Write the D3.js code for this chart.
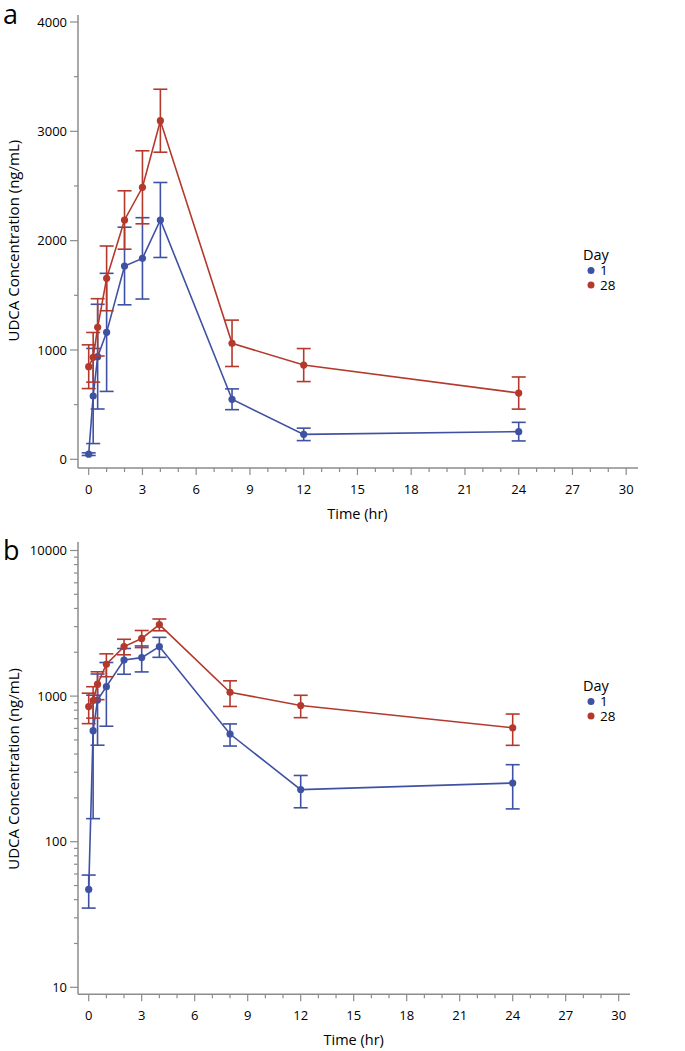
<!DOCTYPE html>
<html>
<head>
<meta charset="utf-8">
<script src="https://cdn.jsdelivr.net/npm/d3@7/dist/d3.min.js"></script>
<style>
  html, body { margin: 0; padding: 0; background: #fff; }
  svg { display: block; font-family: "Open Sans", "Noto Sans", sans-serif; }
</style>
</head>
<body>
<svg id="chart" width="685" height="1051"></svg>
<script>
// ---- Data ----
const times = [0, 0.25, 0.5, 1, 2, 3, 4, 8, 12, 24];
const day1Mean = [47, 579, 939, 1161, 1768, 1838, 2189, 549, 228, 253];
const day1SD   = [12, 435, 479, 540, 355, 372, 343, 95, 57, 85];
const day28Mean = [847, 933, 1207, 1655, 2189, 2488, 3097, 1061, 862, 606];
const day28SD   = [200, 227, 262, 296, 267, 334, 288, 212, 151, 147];
const seriesNames = ["1", "28"];
const xTickValues = [0, 3, 6, 9, 12, 15, 18, 21, 24, 27, 30];
const yLinTicks = [0, 1000, 2000, 3000, 4000];
const yLogTicks = [10, 100, 1000, 10000];
const panelLabels = ["a", "b"];
const xTitle = "Time (hr)";
const yTitle = "UDCA Concentration (ng/mL)";
const legendTitle = "Day";

const colors = ["#3F51A3", "#B4392C"];
const axisColor = "#8c8c8c";

const series = [
  { name: seriesNames[0], mean: day1Mean, sd: day1SD, color: colors[0] },
  { name: seriesNames[1], mean: day28Mean, sd: day28SD, color: colors[1] }
];

const svg = d3.select("#chart");

function drawPanel(cfg) {
  const g = svg.append("g");
  const x = d3.scaleLinear().domain([0, 30]).range([cfg.x0, cfg.x1]);
  const y = cfg.y;

  // panel label
  g.append("text").attr("x", 3).attr("y", cfg.labelY)
    .attr("font-size", 27).attr("fill", "#000").text(cfg.label);

  // axis lines
  g.append("line").attr("x1", cfg.axisX).attr("x2", cfg.axisX)
    .attr("y1", cfg.axisTop).attr("y2", cfg.axisY)
    .attr("stroke", axisColor).attr("stroke-width", 1.5);
  g.append("line").attr("x1", cfg.axisX).attr("x2", cfg.axisRight)
    .attr("y1", cfg.axisY).attr("y2", cfg.axisY)
    .attr("stroke", axisColor).attr("stroke-width", 1.5);

  // x ticks
  const xMinor = d3.range(0, 31, 1);
  g.selectAll(null).data(xMinor).enter().append("line")
    .attr("x1", d => x(d)).attr("x2", d => x(d))
    .attr("y1", cfg.axisY).attr("y2", d => cfg.axisY + (d % 3 === 0 ? 7 : 4))
    .attr("stroke", axisColor).attr("stroke-width", 1.2);
  g.selectAll(null).data(xTickValues).enter().append("text")
    .attr("x", d => x(d)).attr("y", cfg.axisY + 26)
    .attr("text-anchor", "middle").attr("font-size", 13).attr("fill", "#000")
    .text(d => d);

  // y ticks
  g.selectAll(null).data(cfg.yMinor).enter().append("line")
    .attr("x1", cfg.axisX - 4).attr("x2", cfg.axisX)
    .attr("y1", d => y(d)).attr("y2", d => y(d))
    .attr("stroke", axisColor).attr("stroke-width", 1.2);
  g.selectAll(null).data(cfg.yTicks).enter().append("line")
    .attr("x1", cfg.axisX - 8).attr("x2", cfg.axisX)
    .attr("y1", d => y(d)).attr("y2", d => y(d))
    .attr("stroke", axisColor).attr("stroke-width", 1.2);
  g.selectAll(null).data(cfg.yTicks).enter().append("text")
    .attr("x", cfg.axisX - 11).attr("y", d => y(d))
    .attr("dy", "0.35em")
    .attr("text-anchor", "end").attr("font-size", 13).attr("fill", "#000")
    .text(d => d);

  // titles
  g.append("text").attr("x", (cfg.x0 + cfg.x1) / 2).attr("y", cfg.axisY + 51)
    .attr("text-anchor", "middle").attr("font-size", 14.5).attr("fill", "#000")
    .text(xTitle);
  const yc = (y.range()[0] + y.range()[1]) / 2;
  g.append("text")
    .attr("transform", `translate(19,${yc}) rotate(-90)`)
    .attr("text-anchor", "middle").attr("font-size", 15).attr("fill", "#000")
    .text(yTitle);

  // series
  const line = d3.line().x(d => x(d.t)).y(d => y(d.v));
  series.forEach(s => {
    const pts = times.map((t, i) => ({ t, v: s.mean[i], sd: s.sd[i] }));
    const sg = g.append("g");
    sg.append("path").datum(pts).attr("d", line)
      .attr("fill", "none").attr("stroke", s.color).attr("stroke-width", 1.6);
    const eb = sg.selectAll(null).data(pts).enter().append("g");
    eb.append("line")
      .attr("x1", d => x(d.t)).attr("x2", d => x(d.t))
      .attr("y1", d => y(d.v - d.sd)).attr("y2", d => y(d.v + d.sd))
      .attr("stroke", s.color).attr("stroke-width", 1.6);
    eb.append("line")
      .attr("x1", d => x(d.t) - 7).attr("x2", d => x(d.t) + 7)
      .attr("y1", d => y(d.v + d.sd)).attr("y2", d => y(d.v + d.sd))
      .attr("stroke", s.color).attr("stroke-width", 1.6);
    eb.append("line")
      .attr("x1", d => x(d.t) - 7).attr("x2", d => x(d.t) + 7)
      .attr("y1", d => y(d.v - d.sd)).attr("y2", d => y(d.v - d.sd))
      .attr("stroke", s.color).attr("stroke-width", 1.6);
    sg.selectAll(null).data(pts).enter().append("circle")
      .attr("cx", d => x(d.t)).attr("cy", d => y(d.v)).attr("r", 3.6)
      .attr("fill", s.color);
  });

  // legend
  const lg = g.append("g");
  lg.append("text").attr("x", 583).attr("y", cfg.legendY)
    .attr("font-size", 14.5).attr("fill", "#000").text(legendTitle);
  series.forEach((s, i) => {
    const yy = cfg.legendY + 15 + i * 14.5;
    lg.append("circle").attr("cx", 591).attr("cy", yy - 4.5).attr("r", 3.5).attr("fill", s.color);
    lg.append("text").attr("x", 600).attr("y", yy).attr("font-size", 13.5)
      .attr("fill", "#000").text(s.name);
  });
}

// Panel a (linear)
const yLin = d3.scaleLinear().domain([0, 4000]).range([459.3, 22]);
drawPanel({
  label: panelLabels[0], labelY: 24,
  x0: 88.7, x1: 626.2, y: yLin,
  axisX: 78, axisTop: 15, axisY: 468, axisRight: 638,
  yTicks: yLinTicks, yMinor: d3.range(500, 4000, 1000),
  legendY: 260
});

// Panel b (log)
const yLog = d3.scaleLog().domain([10, 10000]).range([987.3, 550.5]);
const logMinor = [];
[10, 100, 1000].forEach(b => { for (let k = 2; k <= 9; k++) logMinor.push(b * k); });
drawPanel({
  label: panelLabels[1], labelY: 560,
  x0: 88.7, x1: 618.7, y: yLog,
  axisX: 78, axisTop: 542, axisY: 994.3, axisRight: 630,
  yTicks: yLogTicks, yMinor: logMinor,
  legendY: 691
});
</script>
</body>
</html>
